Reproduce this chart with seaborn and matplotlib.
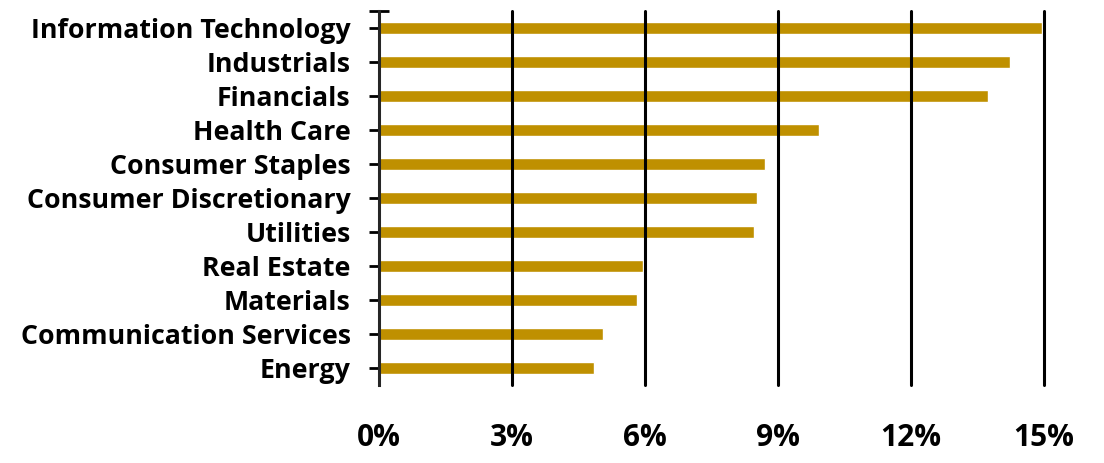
import matplotlib
matplotlib.use("Agg")
import matplotlib.pyplot as plt
import seaborn as sns
import pandas as pd

sectors = [
    "Information Technology",
    "Industrials",
    "Financials",
    "Health Care",
    "Consumer Staples",
    "Consumer Discretionary",
    "Utilities",
    "Real Estate",
    "Materials",
    "Communication Services",
    "Energy",
]
weights = [14.95, 14.23, 13.74, 9.93, 8.71, 8.53, 8.46, 5.96, 5.82, 5.05, 4.85]
x_ticks = [0, 3, 6, 9, 12, 15]
x_tick_labels = ["0%", "3%", "6%", "9%", "12%", "15%"]

df = pd.DataFrame({"sector": sectors, "weight": weights})

sns.set_style("white")
plt.rcParams["font.family"] = ["Open Sans", "DejaVu Sans"]
plt.rcParams["text.color"] = "black"
plt.rcParams["xtick.color"] = "black"
plt.rcParams["ytick.color"] = "black"

fig, ax = plt.subplots(figsize=(11.04, 4.63), dpi=100)
fig.subplots_adjust(left=0.3433, right=0.9457, top=0.976, bottom=0.168)

sns.barplot(data=df, x="weight", y="sector", color="#BF9000", width=0.34,
            saturation=1, ax=ax, zorder=2)

ax.set_xlim(0, 15)
ax.set_ylim(len(sectors) - 0.5, -0.5)

# gridlines sit on top of the bars
for xv in x_ticks[1:]:
    ax.axvline(xv, color="black", lw=2.2, zorder=3, clip_on=False)

for side in ["top", "right", "bottom"]:
    ax.spines[side].set_visible(False)
ax.spines["left"].set_linewidth(2.2)
ax.spines["left"].set_zorder(4)

ax.set_xticks(x_ticks)
ax.set_xticklabels(x_tick_labels, fontsize=21.5, fontweight="bold")
ax.tick_params(axis="x", length=0, pad=27)
ax.tick_params(axis="y", left=True, direction="inout", length=14, width=2,
               pad=13.5, labelsize=19.3)
for lbl in ax.get_yticklabels():
    lbl.set_fontweight("bold")
ax.set_yticks([-0.5], minor=True)
ax.tick_params(axis="y", which="minor", left=True, direction="inout",
               length=14, width=2)

ax.set_xlabel("")
ax.set_ylabel("")

fig.savefig("out.png", dpi=100)
